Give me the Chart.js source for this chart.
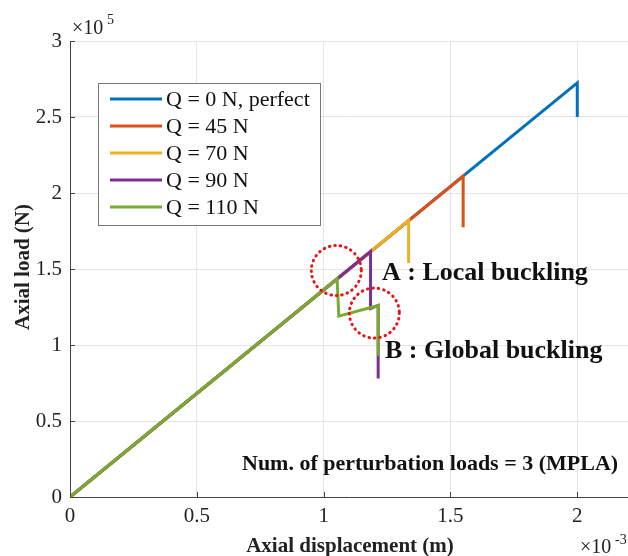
<!DOCTYPE html>
<html>
<head>
<meta charset="utf-8">
<script src="https://cdn.jsdelivr.net/npm/chart.js@4.4.1/dist/chart.umd.min.js"></script>
<style>
  html, body { margin: 0; padding: 0; background: #fff; }
  #wrap { width: 628px; height: 556px; }
</style>
</head>
<body>
<div id="wrap"><canvas id="loadChart" width="628" height="556"></canvas></div>
<script>
// displacement in 1e-3 m, load in 1e5 N
let labels = ['Q = 0 N, perfect', 'Q = 45 N', 'Q = 70 N', 'Q = 90 N', 'Q = 110 N'];
let colorHex = ['#0072BD', '#D95319', '#EDB120', '#7E2F8E', '#77AC30'];

let dispQ0 = [0, 2.0, 2.0];
let loadQ0 = [0, 2.725, 2.5];
let dispQ45 = [0, 1.55, 1.55];
let loadQ45 = [0, 2.11, 1.775];
let dispQ70 = [0, 1.335, 1.335];
let loadQ70 = [0, 1.82, 1.54];
let dispQ90 = [0, 1.185, 1.185, 1.215, 1.215];
let loadQ90 = [0, 1.615, 1.24, 1.26, 0.78];
let dispQ110 = [0, 1.053, 1.06, 1.215, 1.215];
let loadQ110 = [0, 1.435, 1.19, 1.26, 0.93];

let xTicks = [0, 0.5, 1, 1.5, 2];
let yTicks = [0, 0.5, 1, 1.5, 2, 2.5, 3];

// dotted circles: centre in data units
let circleX = [1.05, 1.2];
let circleY = [1.49, 1.21];

let allDisp = [dispQ0, dispQ45, dispQ70, dispQ90, dispQ110];
let allLoad = [loadQ0, loadQ45, loadQ70, loadQ90, loadQ110];

const serif = '"Liberation Serif", "Times New Roman", serif';

let datasets = labels.map((name, i) => ({
  label: name,
  data: allDisp[i].map((x, j) => ({ x: x, y: allLoad[i][j] })),
  borderColor: colorHex[i],
  backgroundColor: colorHex[i],
  borderWidth: 3,
  pointRadius: 0,
  showLine: true,
  tension: 0,
  order: labels.length - i
}));

function keepTicks(list) {
  return (scale) => {
    scale.ticks = list.map(v => ({ value: v }));
  };
}

// inward ticks, legend, annotations
const extras = {
  id: 'extras',
  afterDraw(chart) {
    const c = chart.ctx;
    const xs = chart.scales.x;
    const ys = chart.scales.y;
    const area = chart.chartArea;

    c.save();
    c.strokeStyle = '#444';
    c.lineWidth = 1;
    xTicks.forEach(v => {
      const px = Math.round(xs.getPixelForValue(v)) + 0.5;
      c.beginPath();
      c.moveTo(px, area.bottom);
      c.lineTo(px, area.bottom - 5);
      c.stroke();
    });
    yTicks.forEach(v => {
      const py = Math.round(ys.getPixelForValue(v)) + 0.5;
      c.beginPath();
      c.moveTo(area.left, py);
      c.lineTo(area.left + 5, py);
      c.stroke();
    });

    // exponent labels
    c.fillStyle = '#222';
    c.textBaseline = 'alphabetic';
    c.textAlign = 'left';
    c.font = '20px ' + serif;
    c.fillText('\u00d710', 72, 34);
    c.font = '14px ' + serif;
    c.fillText('5', 107, 24);
    c.font = '20px ' + serif;
    c.fillText('\u00d710', 580, 553);
    c.font = '14px ' + serif;
    c.fillText('-3', 615, 544);

    // axis titles
    c.font = 'bold 21px ' + serif;
    c.textAlign = 'center';
    c.fillText('Axial displacement (m)', 350, 552);
    c.save();
    c.translate(29, 267);
    c.rotate(-Math.PI / 2);
    c.fillText('Axial load (N)', 0, 0);
    c.restore();

    // legend
    c.fillStyle = '#fff';
    c.fillRect(98, 83, 222, 142);
    c.strokeStyle = '#777';
    c.lineWidth = 1;
    c.strokeRect(98.5, 83.5, 222, 142);
    c.font = '22px ' + serif;
    c.textAlign = 'left';
    c.textBaseline = 'middle';
    labels.forEach((name, i) => {
      const y = 99 + i * 27;
      c.strokeStyle = colorHex[i];
      c.lineWidth = 3;
      c.beginPath();
      c.moveTo(110, y);
      c.lineTo(162, y);
      c.stroke();
      c.fillStyle = '#111';
      c.fillText(name, 166, y + 1);
    });

    // dotted circles
    c.strokeStyle = '#ee1111';
    c.lineWidth = 3;
    c.lineCap = 'round';
    c.setLineDash([0.5, 5]);
    circleX.forEach((x, i) => {
      c.beginPath();
      c.arc(xs.getPixelForValue(x), ys.getPixelForValue(circleY[i]), 25, 0, Math.PI * 2);
      c.stroke();
    });
    c.setLineDash([]);

    // notes
    c.fillStyle = '#111';
    c.textBaseline = 'alphabetic';
    c.font = 'bold 26px ' + serif;
    c.fillText('A : Local buckling', 382, 280);
    c.fillText('B : Global buckling', 385, 358);
    c.font = 'bold 22px ' + serif;
    c.fillText('Num. of perturbation loads = 3 (MPLA)', 242, 470);
    c.restore();
  }
};

let ctx = document.getElementById('loadChart').getContext('2d');
// eslint-disable-next-line no-unused-vars
let loadChart = new Chart(ctx, {
  type: 'scatter',
  data: { datasets: datasets },
  options: {
    responsive: false,
    animation: false,
    layout: { padding: { top: 41, right: 0, left: 0, bottom: 0 } },
    plugins: { legend: { display: false }, tooltip: { enabled: false } },
    scales: {
      x: {
        type: 'linear',
        min: 0,
        max: 2.2,
        afterBuildTicks: keepTicks(xTicks),
        afterFit: (scale) => { scale.height = 59; },
        grid: { color: '#e4e4e4', drawTicks: false },
        border: { color: '#444', width: 1 },
        ticks: {
          padding: 7,
          color: '#222',
          font: { family: serif, size: 21 },
          callback: (v) => String(v)
        }
      },
      y: {
        type: 'linear',
        min: 0,
        max: 3,
        afterBuildTicks: keepTicks(yTicks),
        afterFit: (scale) => { scale.width = 70; },
        grid: { color: '#e4e4e4', drawTicks: false },
        border: { color: '#444', width: 1 },
        ticks: {
          padding: 8,
          color: '#222',
          font: { family: serif, size: 21 },
          callback: (v) => String(v)
        }
      }
    }
  },
  plugins: [extras]
});
</script>
</body>
</html>
